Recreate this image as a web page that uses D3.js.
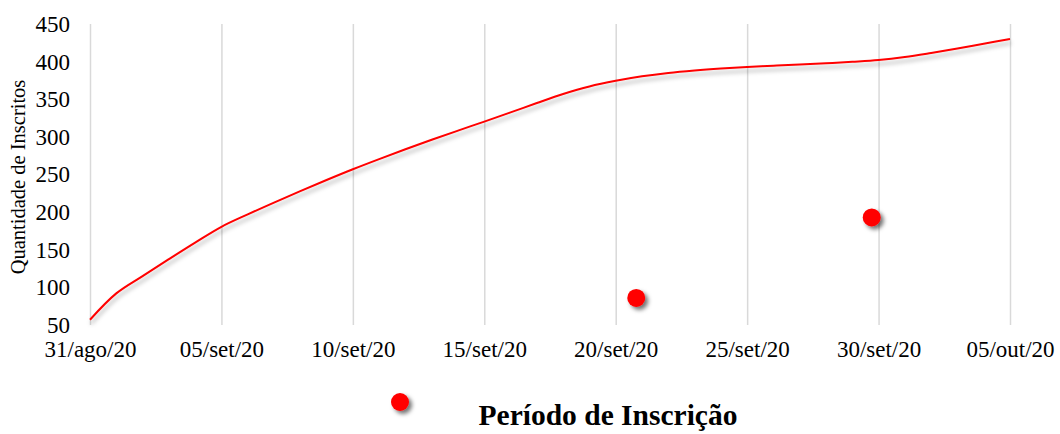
<!DOCTYPE html>
<html>
<head>
<meta charset="utf-8">
<script src="https://cdn.jsdelivr.net/npm/d3@7"></script>
<style>
  body { margin: 0; background: #fff; }
  svg { display: block; font-family: "Liberation Serif", "Times New Roman", serif; }
</style>
</head>
<body>
<div id="chart"></div>
<script>
// daily cumulative registrations, 31/ago/20 .. 05/out/20
var days = ["2020-08-31","2020-09-01","2020-09-02","2020-09-03","2020-09-04","2020-09-05",
  "2020-09-06","2020-09-07","2020-09-08","2020-09-09","2020-09-10","2020-09-11","2020-09-12",
  "2020-09-13","2020-09-14","2020-09-15","2020-09-16","2020-09-17","2020-09-18","2020-09-19",
  "2020-09-20","2020-09-21","2020-09-22","2020-09-23","2020-09-24","2020-09-25","2020-09-26",
  "2020-09-27","2020-09-28","2020-09-29","2020-09-30","2020-10-01","2020-10-02","2020-10-03",
  "2020-10-04","2020-10-05"];
var inscritos = [57, 92, 115, 137.5, 159.5, 180.5, 197, 212.7, 227.9, 242.7, 257,
  270.5, 283.5, 296.1, 308.3, 320.3, 332.5, 345, 357, 367, 374.5,
  380.5, 385, 388.3, 390.9, 393, 394.6, 396.1, 397.8, 399.7, 402,
  406, 411.5, 417.5, 423.8, 430];

// the two loose markers
var dotDates = ["2020-09-20T18:45", "2020-09-29T17:45"];
var dotValues = [86, 193];

var xTicks = ["2020-08-31","2020-09-05","2020-09-10","2020-09-15","2020-09-20","2020-09-25","2020-09-30","2020-10-05"];
var xTickLabels = ["31/ago/20","05/set/20","10/set/20","15/set/20","20/set/20","25/set/20","30/set/20","05/out/20"];
var yTicks = [50, 100, 150, 200, 250, 300, 350, 400, 450];

var width = 1060, height = 434;
var parseT = d3.timeParse("%Y-%m-%dT%H:%M");
var parseD = d3.timeParse("%Y-%m-%d");

var svg = d3.select("#chart").append("svg")
    .attr("width", width)
    .attr("height", height)

var defs = svg.append("defs")
defs.append("filter").attr("id", "dotShadow")
    .attr("x", "-50%").attr("y", "-50%").attr("width", "200%").attr("height", "200%")
  .append("feDropShadow")
    .attr("dx", 3).attr("dy", 3).attr("stdDeviation", 2)
    .attr("flood-color", "#000").attr("flood-opacity", 0.55)
defs.append("filter").attr("id", "lineShadow")
    .attr("x", "-10%").attr("y", "-10%").attr("width", "120%").attr("height", "130%")
  .append("feDropShadow")
    .attr("dx", 1).attr("dy", 4).attr("stdDeviation", 2)
    .attr("flood-color", "#000").attr("flood-opacity", 0.3)

var x = d3.scaleTime()
    .domain([parseD(days[0]), parseD(days[days.length - 1])])
    .range([90, 1010])
var y = d3.scaleLinear()
    .domain([50, 450])
    .range([325, 24])

// vertical gridlines + x labels
var xAxis = d3.axisBottom(x)
    .tickValues(xTicks.map(parseD))
    .tickSize(-(y(50) - y(450)))
    .tickPadding(16)
    .tickFormat(function(d, i) { return xTickLabels[i]; })

var gx = svg.append("g")
    .attr("transform", "translate(0," + y(50) + ")")
    .call(xAxis)
gx.select(".domain").remove()
gx.selectAll(".tick line").attr("stroke", "#d9d9d9").attr("stroke-width", 1.5)
gx.selectAll(".tick text")
    .attr("font-family", "Liberation Serif")
    .attr("font-size", 23)
    .attr("fill", "#000")

var yAxis = d3.axisLeft(y)
    .tickValues(yTicks)
    .tickSize(0)
    .tickPadding(0)

var gy = svg.append("g")
    .attr("transform", "translate(70,0)")
    .call(yAxis)
gy.select(".domain").remove()
gy.selectAll(".tick text")
    .attr("font-family", "Liberation Serif")
    .attr("font-size", 23)
    .attr("fill", "#000")

svg.append("text")
    .text("Quantidade de Inscritos")
    .attr("transform", "translate(25," + 177 + ") rotate(-90)")
    .attr("text-anchor", "middle")
    .attr("font-size", 20.5)
    .attr("fill", "#000")

var line = d3.line()
    .x(function(d, i) { return x(parseD(days[i])); })
    .y(function(d) { return y(d); })
    .curve(d3.curveCatmullRom)

svg.append("path")
    .datum(inscritos)
    .attr("d", line)
    .attr("fill", "none")
    .attr("stroke", "#ff0000")
    .attr("stroke-width", 2)
    .attr("filter", "url(#lineShadow)")

svg.selectAll(".dot")
    .data(dotValues)
    .enter().append("circle")
    .attr("class", "dot")
    .attr("cx", function(d, i) { return x(parseT(dotDates[i])); })
    .attr("cy", function(d) { return y(d); })
    .attr("r", 9)
    .attr("fill", "#ff0000")
    .attr("filter", "url(#dotShadow)")

// legend marker + axis title
svg.append("circle")
    .attr("cx", 400)
    .attr("cy", 402)
    .attr("r", 9)
    .attr("fill", "#ff0000")
    .attr("filter", "url(#dotShadow)")

svg.append("text")
    .text("Período de Inscrição")
    .attr("x", 608)
    .attr("y", 425)
    .attr("text-anchor", "middle")
    .attr("font-size", 29.5)
    .attr("font-weight", "bold")
    .attr("fill", "#000")
</script>
</body>
</html>
